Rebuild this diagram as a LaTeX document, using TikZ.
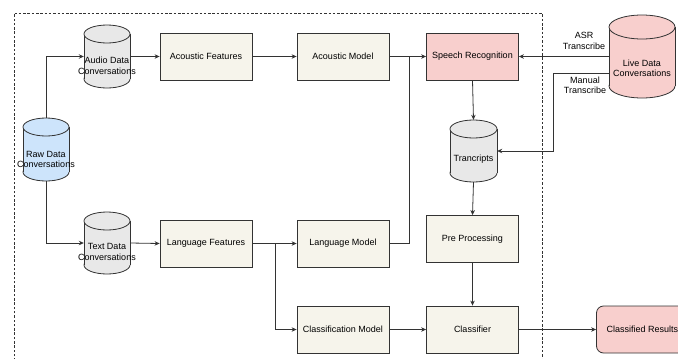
\documentclass[tikz,border=0pt]{standalone}
\usepackage{fontspec}
\setmainfont{Liberation Sans}
\usetikzlibrary{arrows.meta}
\definecolor{boxfill}{RGB}{246,244,235}
\definecolor{pinkfill}{RGB}{248,207,205}
\definecolor{bluefill}{RGB}{205,228,251}
\definecolor{grayfill}{RGB}{232,232,232}
\definecolor{linec}{RGB}{51,51,51}
\tikzset{
  ln/.style={draw=linec, line width=0.8pt},
  arr/.style={ln, -{Stealth[length=5pt,width=4.5pt]}},
  boxn/.style={ln, fill=boxfill, minimum width=92pt, minimum height=47pt, inner sep=0pt, font=\fontsize{9}{11}\selectfont},
  pinkbox/.style={boxn, fill=pinkfill},
  txt/.style={align=center, inner sep=0pt, font=\fontsize{9}{10.5}\selectfont},
  frame/.style={draw=linec, line width=0.6pt, dash pattern=on 2.5pt off 1.8pt}
}
% name, cx, cy, width, height, ry, fill
\newcommand\mycyl[7]{%
  \node[minimum width=#4pt, minimum height=#5pt, inner sep=0pt, draw=none] (#1) at (#2,#3) {};
  \pgfmathsetmacro\cyltop{#3-#5/2+#6}%
  \pgfmathsetmacro\cylbot{#3+#5/2-#6}%
  \pgfmathsetmacro\cylL{#2-#4/2}%
  \pgfmathsetmacro\cylR{#2+#4/2}%
  \filldraw[ln, fill=#7] (#2,\cylbot) ellipse[x radius=#4/2, y radius=#6];
  \fill[#7] (\cylL,\cyltop) rectangle (\cylR,\cylbot);
  \draw[ln] (\cylL,\cyltop) -- (\cylL,\cylbot) (\cylR,\cyltop) -- (\cylR,\cylbot);
  \filldraw[ln, fill=#7] (#2,\cyltop) ellipse[x radius=#4/2, y radius=#6];
}
\begin{document}
\begin{tikzpicture}[x=1pt, y=-1pt]
\useasboundingbox (0,0) rectangle (678,359);
\clip (0,0) rectangle (678,359);
\fill[white] (0,0) rectangle (678,359);

% dashed frame
\draw[frame] (14,365) -- (14,13) -- (542,13) -- (542,365);

% cylinders
\mycyl{audio}{107}{56.5}{46}{63}{9}{grayfill}
\node[txt] (audiot) at (107,66) {Audio Data\\Conversations};
\mycyl{textd}{107}{243}{46}{62}{9}{grayfill}
\node[txt] (textdt) at (107,252) {Text Data\\Conversations};
\mycyl{raw}{46}{149.5}{46}{63}{9}{bluefill}
\node[txt] (rawt) at (46,159.5) {Raw Data\\Conversations};
\mycyl{tr}{473.5}{151}{47}{62}{9}{grayfill}
\node[txt] (trt) at (473.5,159) {Trancripts};
\mycyl{live}{642}{56.5}{66}{83}{12}{pinkfill}
\node[txt] (livet) at (642,68.5) {Live Data\\Conversations};

% boxes
\node[boxn] (af) at (206,56.5) {Acoustic Features};
\node[boxn] (am) at (343,56.5) {Acoustic Model};
\node[pinkbox] (sr) at (472.5,56.5) {Speech Recognition};
\node[boxn] (lf) at (206,243.5) {Language Features};
\node[boxn] (lm) at (343,243.5) {Language Model};
\node[boxn] (cm) at (343,329.5) {Classification Model};
\node[boxn] (pp) at (472.5,239) {Pre Processing};
\node[boxn] (cl) at (472.5,329.5) {Classifier};
\node[pinkbox, rounded corners=7pt] (cr) at (642.5,329.5) {Classified Results};

% coordinates
\coordinate (j1) at (409,56.5);
\coordinate (j2) at (275,243.5);
\coordinate (m1) at (609,73);
\coordinate (m2) at (553,73);

% connectors
\draw[arr] (raw.north) |- (audio.west);
\draw[arr] (raw.south) |- (textd.west);
\draw[arr] (audio.east) -- (af.west);
\draw[arr] (af.east) -- (am.west);
\draw[arr] (am.east) -- (sr.west);
\draw[ln] (lm.east) -| (j1);
\draw[arr] (textd.east) -- (lf.west);
\draw[arr] (lf.east) -- (lm.west);
\draw[arr] (j2) |- (cm.west);
\draw[arr] (sr.south) -- (tr.north);
\draw[arr] (tr.south) -- (pp.north);
\draw[arr] (pp.south) -- (cl.north);
\draw[arr] (cm.east) -- (cl.west);
\draw[arr] (cl.east) -- (cr.west);
\draw[arr] (live.west) -- (sr.east);
\draw[arr] (m1) -- (m2) |- (tr.east);

% labels
\node[txt] (asr) at (584,41) {ASR\\Transcribe};
\node[txt] (man) at (585,85.5) {Manual\\Transcribe};
\end{tikzpicture}
\end{document}
